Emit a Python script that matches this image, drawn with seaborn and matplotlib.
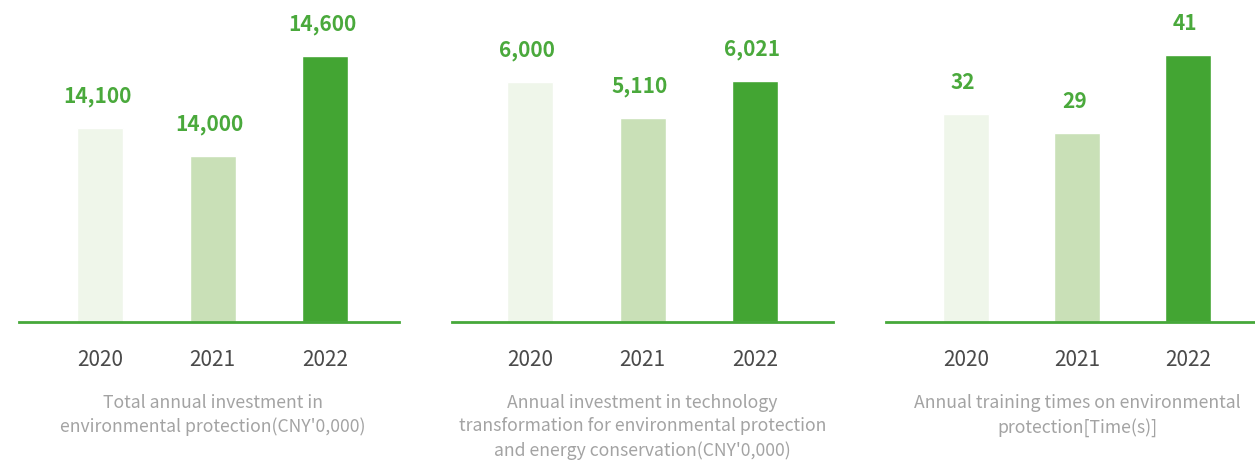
import matplotlib
matplotlib.use("Agg")
import matplotlib.pyplot as plt
import matplotlib.transforms as mtransforms
import seaborn as sns
import pandas as pd

# ---------------- data ----------------
years = ["2020", "2021", "2022"]

p1_labels = ["14,100", "14,000", "14,600"]
# panel 1 bars in the source are not drawn to scale; heights as drawn (relative units)
p1_heights = [10650, 9110, 14600]

p2_values = [6000, 5110, 6021]
p2_labels = ["6,000", "5,110", "6,021"]

p3_values = [32, 29, 41]
p3_labels = ["32", "29", "41"]

captions = [
    "Total annual investment in\nenvironmental protection(CNY'0,000)",
    "Annual investment in technology\ntransformation for environmental protection\nand energy conservation(CNY'0,000)",
    "Annual training times on environmental\nprotection[Time(s)]",
]

bar_colors = ["#eff6ea", "#c9e0b7", "#43a533"]
line_color = "#46a83a"
value_color = "#4aa93c"
year_color = "#4a4a4a"
caption_color = "#a3a3a3"

# ---------------- layout ----------------
W, H = 1255, 463
DPI = 100
sns.set_theme(style="white")
plt.rcParams["font.family"] = ["Noto Sans CJK SC", "DejaVu Sans"]

fig = plt.figure(figsize=(W / DPI, H / DPI), dpi=DPI)

panels = [
    dict(left=19, right=399, heights=p1_heights, labels=p1_labels, c0=81, sp=112.5,
         scale=266 / 14600),
    dict(left=452, right=833, heights=p2_values, labels=p2_labels, c0=78, sp=112.5,
         scale=240 / 6000),
    dict(left=886, right=1255, heights=p3_values, labels=p3_labels, c0=80, sp=111,
         scale=267 / 41),
]
baseline = 322

for p, cap in zip(panels, captions):
    w_px = p["right"] - p["left"]
    ax = fig.add_axes([p["left"] / W, (H - baseline) / H, w_px / W, baseline / H])
    df = pd.DataFrame({"year": years, "v": p["heights"]})
    sns.barplot(data=df, x="year", y="v", hue="year", palette=bar_colors,
                legend=False, width=46 / p["sp"], ax=ax, saturation=1)
    ax.set_xlim(-p["c0"] / p["sp"], (w_px - p["c0"]) / p["sp"])
    ax.set_ylim(0, baseline / p["scale"])
    for s in ["left", "top", "right"]:
        ax.spines[s].set_visible(False)
    ax.spines["bottom"].set_color(line_color)
    ax.spines["bottom"].set_linewidth(2.0)
    ax.spines["bottom"].set_zorder(5)
    ax.set_yticks([])
    ax.set_xlabel("")
    ax.set_ylabel("")
    ax.tick_params(axis="x", length=0, pad=19.5, labelsize=15, labelcolor=year_color)
    for lbl in ax.get_xticklabels():
        lbl.set_fontweight("light")
    for i, (h, t) in enumerate(zip(p["heights"], p["labels"])):
        ax.annotate(t, (i, h), xytext=(-2, 22.5), textcoords="offset points",
                    ha="center", va="center", fontsize=15, fontweight="bold",
                    color=value_color)
    trans = mtransforms.blended_transform_factory(ax.transData, fig.transFigure)
    ax.text(1, (H - 394) / H, cap, transform=trans, ha="center", va="top",
            fontsize=12.7, color=caption_color, linespacing=1.38, fontweight="light")

fig.savefig("out.png", dpi=DPI)
